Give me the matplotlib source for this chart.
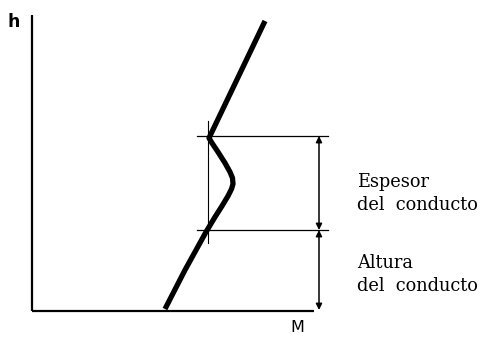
import matplotlib
matplotlib.use("Agg")
import matplotlib.pyplot as plt

# Profile M(h) (drawing units; h axis plotted downward-inverted like the page)
curve_M = [165, 185, 206, 209, 215, 222, 228, 231.5, 233, 232.5, 230, 225, 218, 212, 209, 265]
curve_h = [309, 270, 232, 227, 217, 206, 196, 189, 184, 178, 172, 163, 152, 143, 138, 21]

duct_top = 136
duct_bottom = 230
ground = 311
axis_x = 32
dim_x = 319

labels_thick = ["Espesor", "del  conducto"]
labels_height = ["Altura", "del  conducto"]

fig = plt.figure(figsize=(5.03, 3.39), dpi=100)
ax = fig.add_axes([0, 0, 1, 1])
ax.set_xlim(0, 503)
ax.set_ylim(339, 0)
ax.axis("off")

# axes
ax.plot([axis_x, axis_x], [15, ground], color="black", lw=1.6, solid_capstyle="butt")
ax.plot([axis_x, 314], [ground, ground], color="black", lw=1.6, solid_capstyle="butt")
ax.text(14, 22, "h", fontsize=12.5, fontweight="bold", ha="center", va="center", family="DejaVu Sans")
ax.text(297, 327, "M", fontsize=11.5, ha="center", va="center", family="DejaVu Sans")

# duct boundary lines
ax.plot([197, 328], [duct_top, duct_top], color="black", lw=0.9)
ax.plot([197, 328], [duct_bottom, duct_bottom], color="black", lw=0.9)
ax.plot([208, 208], [121, 243], color="black", lw=0.8)

# profile
ax.plot(curve_M, curve_h, color="black", lw=3.8, solid_capstyle="butt", solid_joinstyle="round")

# dimension arrows
ap = dict(arrowstyle="<|-|>", lw=1.1, color="black", mutation_scale=9, shrinkA=0, shrinkB=0)
ax.annotate("", xy=(dim_x, duct_top), xytext=(dim_x, duct_bottom), arrowprops=ap)
ax.annotate("", xy=(dim_x, duct_bottom), xytext=(dim_x, ground - 1), arrowprops=ap)

# texts
fs = 12.8
ax.text(357, 182, labels_thick[0], fontsize=fs, family="DejaVu Serif", va="center")
ax.text(357, 205, labels_thick[1], fontsize=fs, family="DejaVu Serif", va="center")
ax.text(357, 263, labels_height[0], fontsize=fs, family="DejaVu Serif", va="center")
ax.text(357, 286, labels_height[1], fontsize=fs, family="DejaVu Serif", va="center")

fig.savefig("out.png", dpi=100)
